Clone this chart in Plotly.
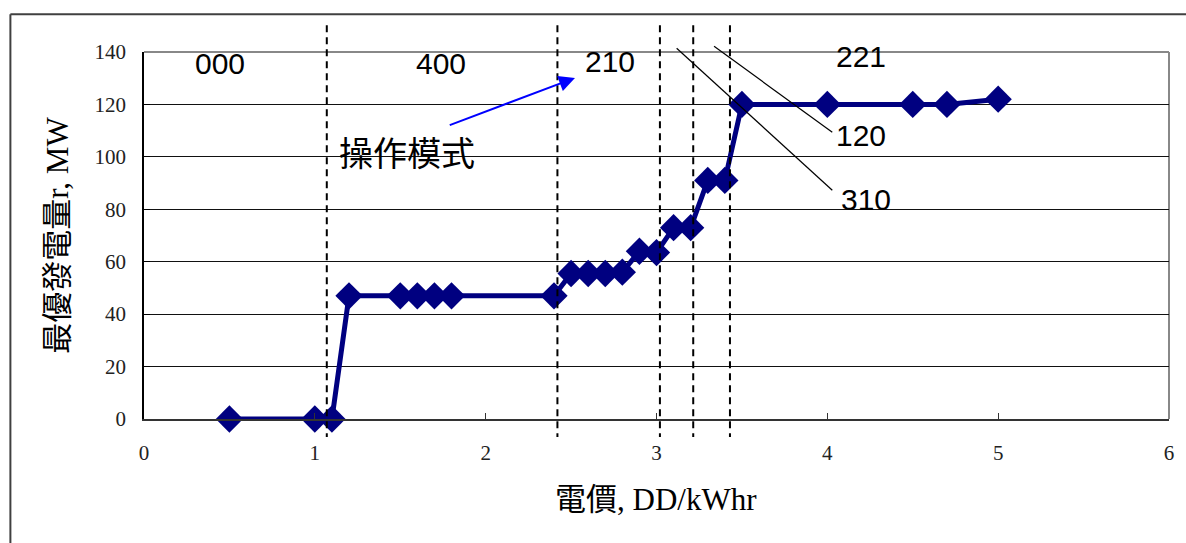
import plotly.graph_objects as go

# Optimal generation vs. electricity price
price = [0.5, 1.0, 1.1, 1.2, 1.5, 1.6, 1.7, 1.8, 2.4, 2.5, 2.6, 2.7, 2.8,
         2.9, 3.0, 3.1, 3.2, 3.3, 3.4, 3.5, 4.0, 4.5, 4.7, 5.0]
output_mw = [0, 0, 0, 47, 47, 47, 47, 47, 47, 55.5, 55.5, 55.5, 56,
             64, 63.5, 73, 73, 91, 91, 120, 120, 120, 120, 122]

# Price levels where the operating mode changes
mode_boundaries = [1.07, 2.42, 3.02, 3.215, 3.43]

x_ticks = [0, 1, 2, 3, 4, 5, 6]
y_ticks = [0, 20, 40, 60, 80, 100, 120, 140]

W, H = 1186, 543
ML, MR, MT, MB = 144, 14, 51.7, 124
plot_h = H - MT - MB


def py(pix):
    """Paper y for a pixel row of the page."""
    return (H - MB - pix) / plot_h


def px(pix):
    """Paper x for a pixel column of the page."""
    return (pix - ML) / (W - ML - MR)


serif = "Liberation Serif, 'Noto Sans CJK TC', serif"
sans = "Liberation Sans, Arial, sans-serif"

fig = go.Figure()
fig.add_trace(go.Scatter(
    x=price, y=output_mw, mode="lines+markers",
    line=dict(color="#000080", width=5),
    marker=dict(symbol="diamond", size=21, color="#000080"),
    cliponaxis=False, showlegend=False,
))

shapes = []
# outer chart frame (top and left edges)
shapes.append(dict(type="line", xref="paper", yref="paper",
                   x0=px(10), x1=px(1200), y0=py(14), y1=py(14),
                   line=dict(color="#404040", width=2)))
shapes.append(dict(type="line", xref="paper", yref="paper",
                   x0=px(10), x1=px(10), y0=py(14), y1=py(560),
                   line=dict(color="#404040", width=2)))
# plot-area border (top and right) in gray
shapes.append(dict(type="line", xref="paper", yref="paper",
                   x0=0, x1=1, y0=1, y1=1, layer="below",
                   line=dict(color="#888888", width=2)))
shapes.append(dict(type="line", xref="paper", yref="paper",
                   x0=1, x1=1, y0=0, y1=1, layer="below",
                   line=dict(color="#888888", width=2)))
# mode boundaries
for b in mode_boundaries:
    shapes.append(dict(type="line", xref="x", yref="paper",
                       x0=b, x1=b, y0=py(25), y1=py(437),
                       line=dict(color="black", width=2, dash="7px,5px")))
# leader lines for the 310 and 120 labels
shapes.append(dict(type="line", xref="x", yref="paper",
                   x0=3.118, x1=4.029, y0=py(48), y1=py(190),
                   line=dict(color="black", width=1.2)))
shapes.append(dict(type="line", xref="x", yref="paper",
                   x0=3.337, x1=4.029, y0=py(46), y1=py(132),
                   line=dict(color="black", width=1.2)))

annotations = []
mode_labels = [("000", 0.444, 135.5), ("400", 1.74, 135.5), ("210", 2.727, 136.3),
               ("221", 4.199, 138.2), ("120", 4.199, 108.0), ("310", 4.228, 83.6)]
for txt, xv, yv in mode_labels:
    annotations.append(dict(text=txt, x=xv, y=yv, xref="x", yref="y",
                            showarrow=False, xanchor="center", yanchor="middle",
                            font=dict(family=sans, size=30, color="black")))
annotations.append(dict(text="操作模式", x=1.542, y=101.0, xref="x", yref="y",
                        showarrow=False, xanchor="center", yanchor="middle",
                        font=dict(family=serif, size=34, color="black")))
# arrow pointing to the 210 label
annotations.append(dict(text="", x=2.523, y=130.1, ax=1.781, ay=111.9,
                        xref="x", yref="y", axref="x", ayref="y",
                        showarrow=True, arrowhead=2, arrowsize=1.6,
                        arrowwidth=2, arrowcolor="#0000FF"))
# axis titles
annotations.append(dict(text="最優發電量r, MW", x=px(57), y=0.5, xref="paper", yref="paper",
                        textangle=-90, showarrow=False, xanchor="center", yanchor="middle",
                        font=dict(family=serif, size=31, color="black")))
annotations.append(dict(text="電價, DD/kWhr", x=px(657), y=py(500), xref="paper", yref="paper",
                        showarrow=False, xanchor="center", yanchor="middle",
                        font=dict(family=serif, size=31, color="black")))

fig.update_layout(
    width=W, height=H,
    margin=dict(l=ML, r=MR, t=MT, b=MB, pad=0),
    paper_bgcolor="white", plot_bgcolor="white",
    shapes=shapes, annotations=annotations,
    xaxis=dict(range=[0, 6], tickvals=x_ticks, showgrid=False, zeroline=False,
               showline=True, linecolor="#333333", linewidth=2,
               ticks="inside", ticklen=6, tickcolor="#333333",
               ticklabelstandoff=14,
               tickfont=dict(family=serif, size=21, color="#222222")),
    yaxis=dict(range=[0, 140], tickvals=y_ticks, showgrid=True,
               gridcolor="#111111", gridwidth=1, zeroline=False,
               showline=True, linecolor="black", linewidth=1.5,
               ticks="inside", ticklen=6, tickcolor="black",
               ticklabelstandoff=12,
               tickfont=dict(family=serif, size=21, color="#222222")),
)

fig.write_html("out.html")
